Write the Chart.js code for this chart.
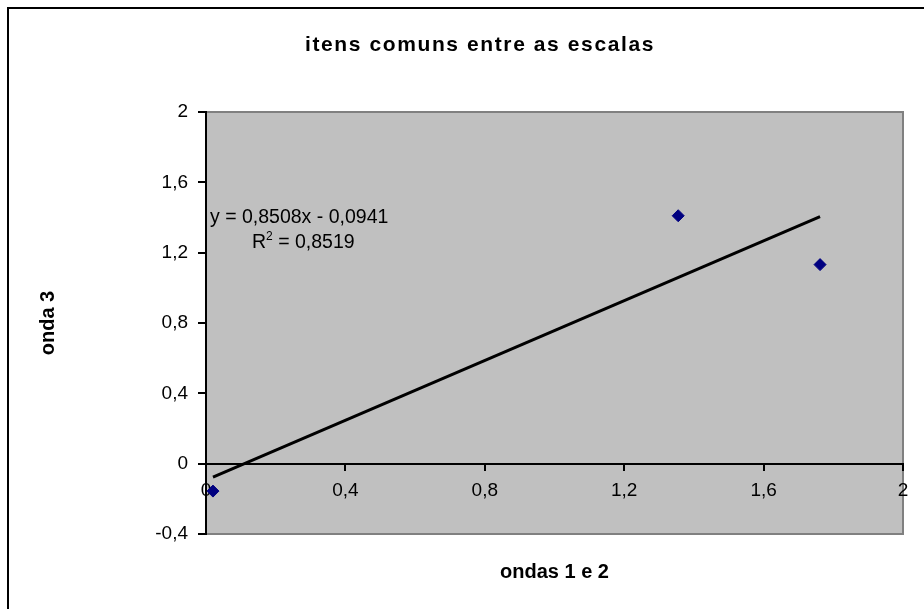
<!DOCTYPE html>
<html>
<head>
<meta charset="utf-8">
<script src="https://cdn.jsdelivr.net/npm/chart.js@4"></script>
<style>
  body { margin: 0; background: #fff; }
  canvas { display: block; }
</style>
</head>
<body>
<canvas id="chart" width="924" height="609"></canvas>
<script>
// data
const xValues = [0.02, 1.355, 1.762];
const yValues = [-0.156, 1.41, 1.132];
const trendSlope = 0.8508;
const trendIntercept = -0.0941;
const rSquared = '0,8519';
const xTickLabels = ['0', '0,4', '0,8', '1,2', '1,6', '2'];
const yTickLabels = ['-0,4', '0', '0,4', '0,8', '1,2', '1,6', '2'];
const chartTitle = 'itens comuns entre as escalas';
const xTitle = 'ondas 1 e 2';
const yTitle = 'onda 3';

const points = xValues.map((x, i) => ({ x: x, y: yValues[i] }));
const xMin = Math.min(...xValues);
const xMax = Math.max(...xValues);
const trendPoints = [
    { x: xMin, y: trendSlope * xMin + trendIntercept },
    { x: xMax, y: trendSlope * xMax + trendIntercept }
];

const FONT = '"Liberation Sans", Arial, sans-serif';

// gray plot area, frame, titles and equation
const decorations = {
    id: 'decorations',
    beforeDraw(chart) {
        const ctx = chart.ctx;
        const a = chart.chartArea;
        ctx.save();
        ctx.fillStyle = '#c0c0c0';
        ctx.fillRect(a.left, a.top, a.right - a.left, a.bottom - a.top);
        ctx.strokeStyle = '#808080';
        ctx.lineWidth = 2;
        ctx.strokeRect(a.left, a.top, a.right - a.left, a.bottom - a.top);
        // outer chart border
        ctx.strokeStyle = '#000';
        ctx.lineWidth = 2;
        ctx.strokeRect(8, 8, 1000, 1000);
        ctx.restore();
    },
    afterDraw(chart) {
        const ctx = chart.ctx;
        const a = chart.chartArea;
        ctx.save();
        ctx.fillStyle = '#000';

        // title
        ctx.font = 'bold 21px ' + FONT;
        ctx.textAlign = 'center';
        ctx.textBaseline = 'alphabetic';
        if ('letterSpacing' in ctx) ctx.letterSpacing = '1.6px';
        ctx.fillText(chartTitle, 480, 51);
        if ('letterSpacing' in ctx) ctx.letterSpacing = '0px';

        // axis titles
        ctx.font = 'bold 20px ' + FONT;
        ctx.fillText(xTitle, (a.left + a.right) / 2, 578);
        ctx.save();
        ctx.translate(54, (a.top + a.bottom) / 2);
        ctx.rotate(-Math.PI / 2);
        ctx.fillText(yTitle, 0, 0);
        ctx.restore();

        // trendline equation
        ctx.textAlign = 'left';
        ctx.font = '19.5px ' + FONT;
        const sign = trendIntercept < 0 ? ' - ' : ' + ';
        const eq = 'y = ' + trendSlope.toFixed(4).replace('.', ',') + 'x' + sign +
            Math.abs(trendIntercept).toFixed(4).replace('.', ',');
        ctx.fillText(eq, a.left + 4, 223);
        let x = a.left + 46;
        ctx.fillText('R', x, 248);
        x += ctx.measureText('R').width;
        ctx.font = '12px ' + FONT;
        ctx.fillText('2', x, 240);
        x += ctx.measureText('2').width;
        ctx.font = '19.5px ' + FONT;
        ctx.fillText(' = ' + rSquared, x, 248);
        ctx.restore();
    }
};

const ctx = document.getElementById('chart').getContext('2d');
const chart = new Chart(ctx, {
    data: {
        datasets: [
            {
                type: 'scatter',
                label: 'itens',
                data: points,
                pointStyle: 'rectRot',
                pointRadius: 6,
                backgroundColor: '#000080',
                borderColor: '#000080',
                borderWidth: 1
            },
            {
                type: 'line',
                label: 'tendência',
                data: trendPoints,
                borderColor: '#000',
                borderWidth: 3,
                pointRadius: 0,
                fill: false
            }
        ]
    },
    options: {
        responsive: false,
        animation: false,
        layout: {
            padding: { left: 0, top: 112, right: 21, bottom: 75 }
        },
        plugins: {
            legend: { display: false },
            tooltip: { enabled: false }
        },
        scales: {
            x: {
                type: 'linear',
                position: { y: 0 },
                min: 0,
                max: 2,
                ticks: {
                    stepSize: 0.4,
                    color: '#000',
                    padding: 10,
                    font: { family: FONT, size: 19 },
                    callback: (v, i) => xTickLabels[i]
                },
                grid: {
                    drawOnChartArea: false,
                    drawTicks: true,
                    tickLength: 6,
                    color: '#000',
                    lineWidth: 2
                },
                border: { display: true, color: '#000', width: 2 }
            },
            y: {
                type: 'linear',
                min: -0.4,
                max: 2,
                afterFit: (scale) => { scale.width = 206; },
                ticks: {
                    stepSize: 0.4,
                    color: '#000',
                    padding: 10,
                    font: { family: FONT, size: 19 },
                    callback: (v, i) => yTickLabels[i]
                },
                grid: {
                    drawOnChartArea: false,
                    drawTicks: true,
                    tickLength: 8,
                    color: '#000',
                    lineWidth: 2
                },
                border: { display: true, color: '#000', width: 2 }
            }
        }
    },
    plugins: [decorations]
});
</script>
</body>
</html>
